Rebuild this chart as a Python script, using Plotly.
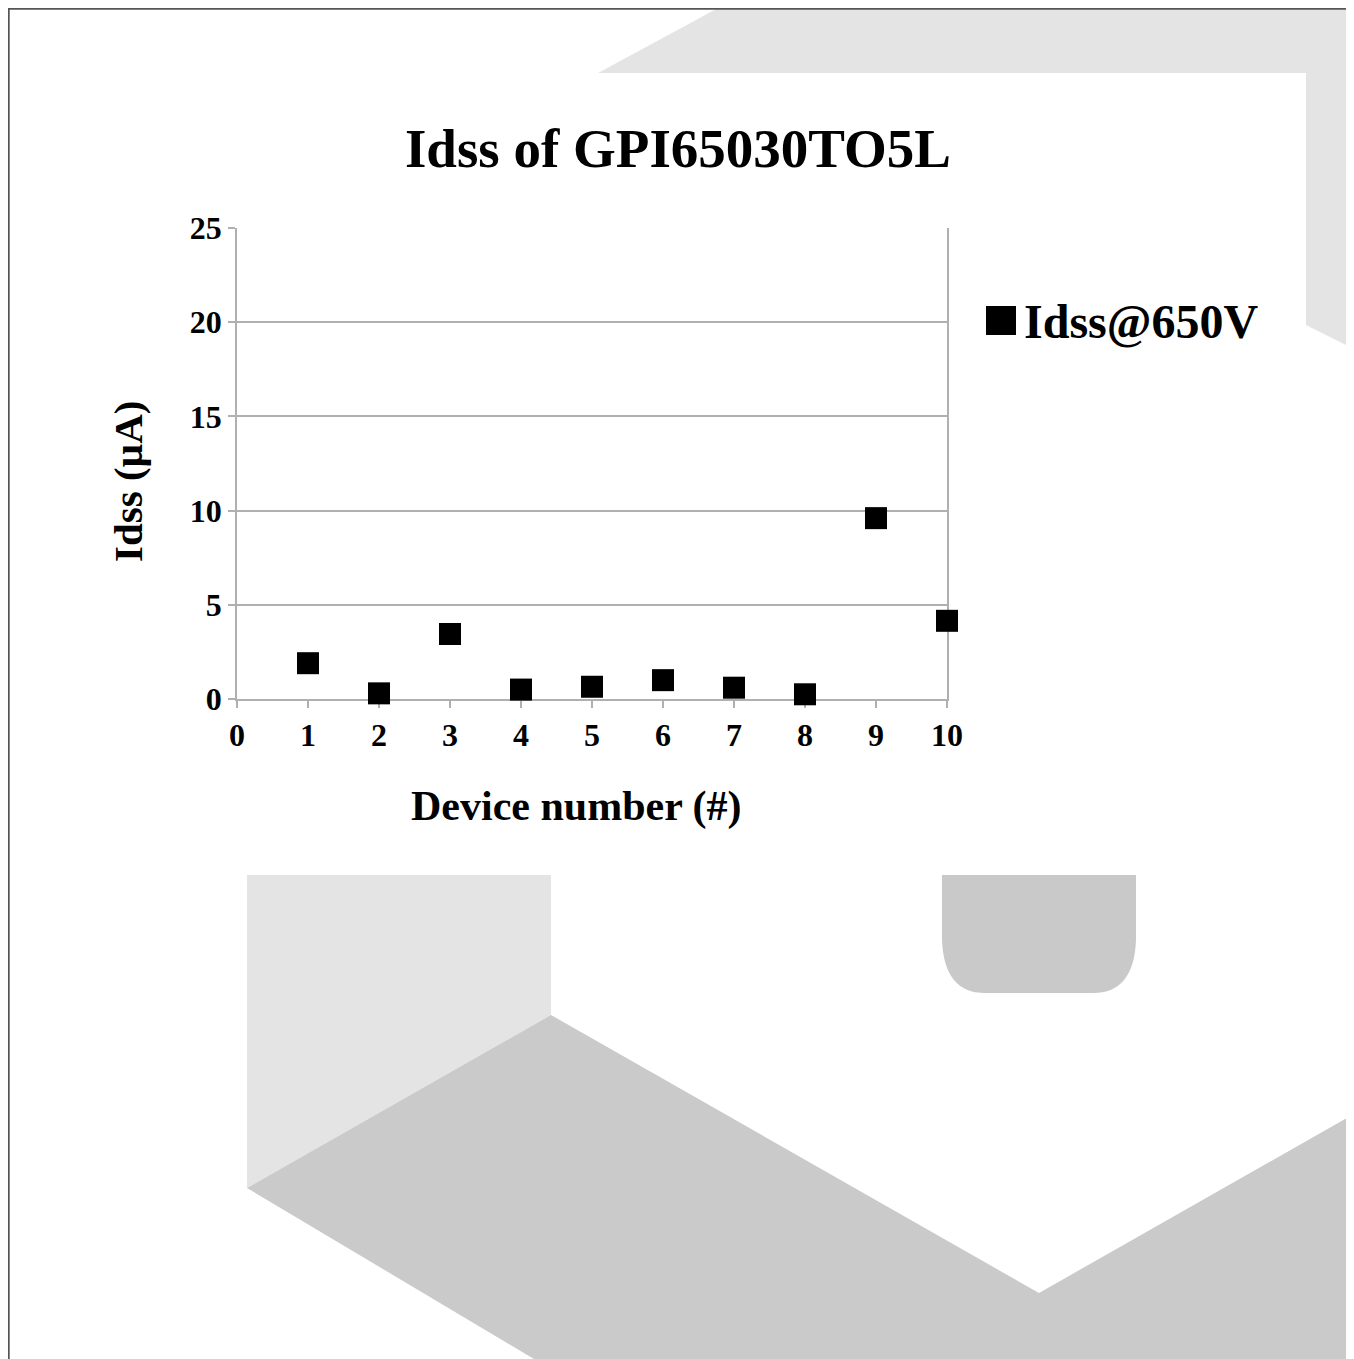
import plotly.graph_objects as go

# ---- data ----
devices = [1, 2, 3, 4, 5, 6, 7, 8, 9, 10]
idss_650v = [1.9, 0.3, 3.45, 0.5, 0.65, 1.0, 0.6, 0.25, 9.6, 4.15]
series_name = "Idss@650V"
title_text = "Idss of GPI65030TO5L"
x_title = "Device number (#)"
y_title = "Idss (µA)"
x_ticks = list(range(0, 11))
y_ticks = [0, 5, 10, 15, 20, 25]

OFF = 8  # page body margin
W, H = 1354 - OFF, 1359 - OFF
FONT = "Liberation Serif, Times New Roman, serif"


def px(x):
    return (x - OFF) / W


def py(y):
    return 1 - (y - OFF) / H


def poly(points):
    return "M " + " L ".join(f"{px(x):.5f},{py(y):.5f}" for x, y in points) + " Z"


LIGHT = "#e4e4e4"
DARK = "#cacaca"

shapes = [
    dict(type="path", xref="paper", yref="paper", layer="below",
         path=poly([(720, 7), (1352, 7), (1352, 348), (1306, 325), (1306, 73), (598, 73)]),
         fillcolor=LIGHT, line=dict(width=0)),
    dict(type="path", xref="paper", yref="paper", layer="below",
         path=poly([(247, 875), (551, 875), (551, 1015), (247, 1188)]),
         fillcolor=LIGHT, line=dict(width=0)),
    dict(type="path", xref="paper", yref="paper", layer="below",
         path=poly([(247, 1188), (551, 1015), (1039, 1293), (1352, 1115), (1352, 1365), (544, 1365)]),
         fillcolor=DARK, line=dict(width=0)),
    dict(type="path", xref="paper", yref="paper", layer="below",
         path=(f"M {px(942):.5f},{py(875):.5f} L {px(942):.5f},{py(940):.5f} "
               f"Q {px(944):.5f},{py(993):.5f} {px(985):.5f},{py(993):.5f} "
               f"L {px(1093):.5f},{py(993):.5f} "
               f"Q {px(1134):.5f},{py(993):.5f} {px(1136):.5f},{py(940):.5f} "
               f"L {px(1136):.5f},{py(875):.5f} Z"),
         fillcolor="#c9c9c9", line=dict(width=0)),
    dict(type="rect", xref="paper", yref="paper", layer="below",
         x0=px(8.8), x1=px(1352), y0=py(1370), y1=py(8.8),
         line=dict(color="#555555", width=1.8), fillcolor="rgba(0,0,0,0)"),
    # enlarged legend swatch backing
    dict(type="rect", xref="paper", yref="paper", layer="above",
         x0=px(986), x1=px(1016), y0=py(335), y1=py(306),
         line=dict(width=0), fillcolor="black"),
]

fig = go.Figure()
fig.add_trace(go.Scatter(
    x=devices, y=idss_650v, mode="markers", name=series_name,
    marker=dict(symbol="square", size=22, color="black"),
    cliponaxis=False,
))

annotations = [
    dict(text=x_title, xref="paper", yref="paper", x=px(576), y=py(806),
         xanchor="center", yanchor="middle", showarrow=False,
         font=dict(family=FONT, size=42, weight="bold", color="black")),
    dict(text=y_title, xref="paper", yref="paper", x=px(128), y=py(482),
         xanchor="center", yanchor="middle", showarrow=False, textangle=-90,
         font=dict(family=FONT, size=41, weight="bold", color="black")),
]

GRID = "#b0b0b0"
fig.update_layout(
    width=W, height=H,
    margin=dict(l=0, r=0, t=0, b=0, autoexpand=False),
    paper_bgcolor="white",
    plot_bgcolor="rgba(0,0,0,0)",
    font=dict(family=FONT, color="black"),
    title=dict(text=title_text, x=px(678), xanchor="center", y=py(148), yanchor="middle",
               automargin=False,
               font=dict(family=FONT, size=55, weight="bold", color="black")),
    showlegend=True,
    legend=dict(x=px(984), xanchor="left", y=py(320), yanchor="middle",
                font=dict(family=FONT, size=48, weight="bold", color="black"),
                bgcolor="rgba(0,0,0,0)"),
    shapes=shapes,
    annotations=annotations,
    xaxis=dict(domain=[px(237), px(947)], range=[0, 10], tickvals=x_ticks,
               automargin=False, layer="below traces",
               showgrid=False, zeroline=False,
               showline=True, linecolor=GRID, linewidth=1.5,
               ticks="outside", ticklen=7, tickcolor=GRID, tickwidth=1.5,
               tickfont=dict(family=FONT, size=32, weight="bold", color="black")),
    yaxis=dict(domain=[py(699), py(228)], range=[0, 25], tickvals=y_ticks,
               automargin=False, layer="below traces",
               showgrid=True, gridcolor=GRID, gridwidth=1.5, zeroline=False,
               showline=True, linecolor=GRID, linewidth=1.5, mirror=True,
               ticks="outside", ticklen=7, tickcolor=GRID, tickwidth=1.5,
               tickfont=dict(family=FONT, size=32, weight="bold", color="black")),
)

fig.write_html("out.html")
